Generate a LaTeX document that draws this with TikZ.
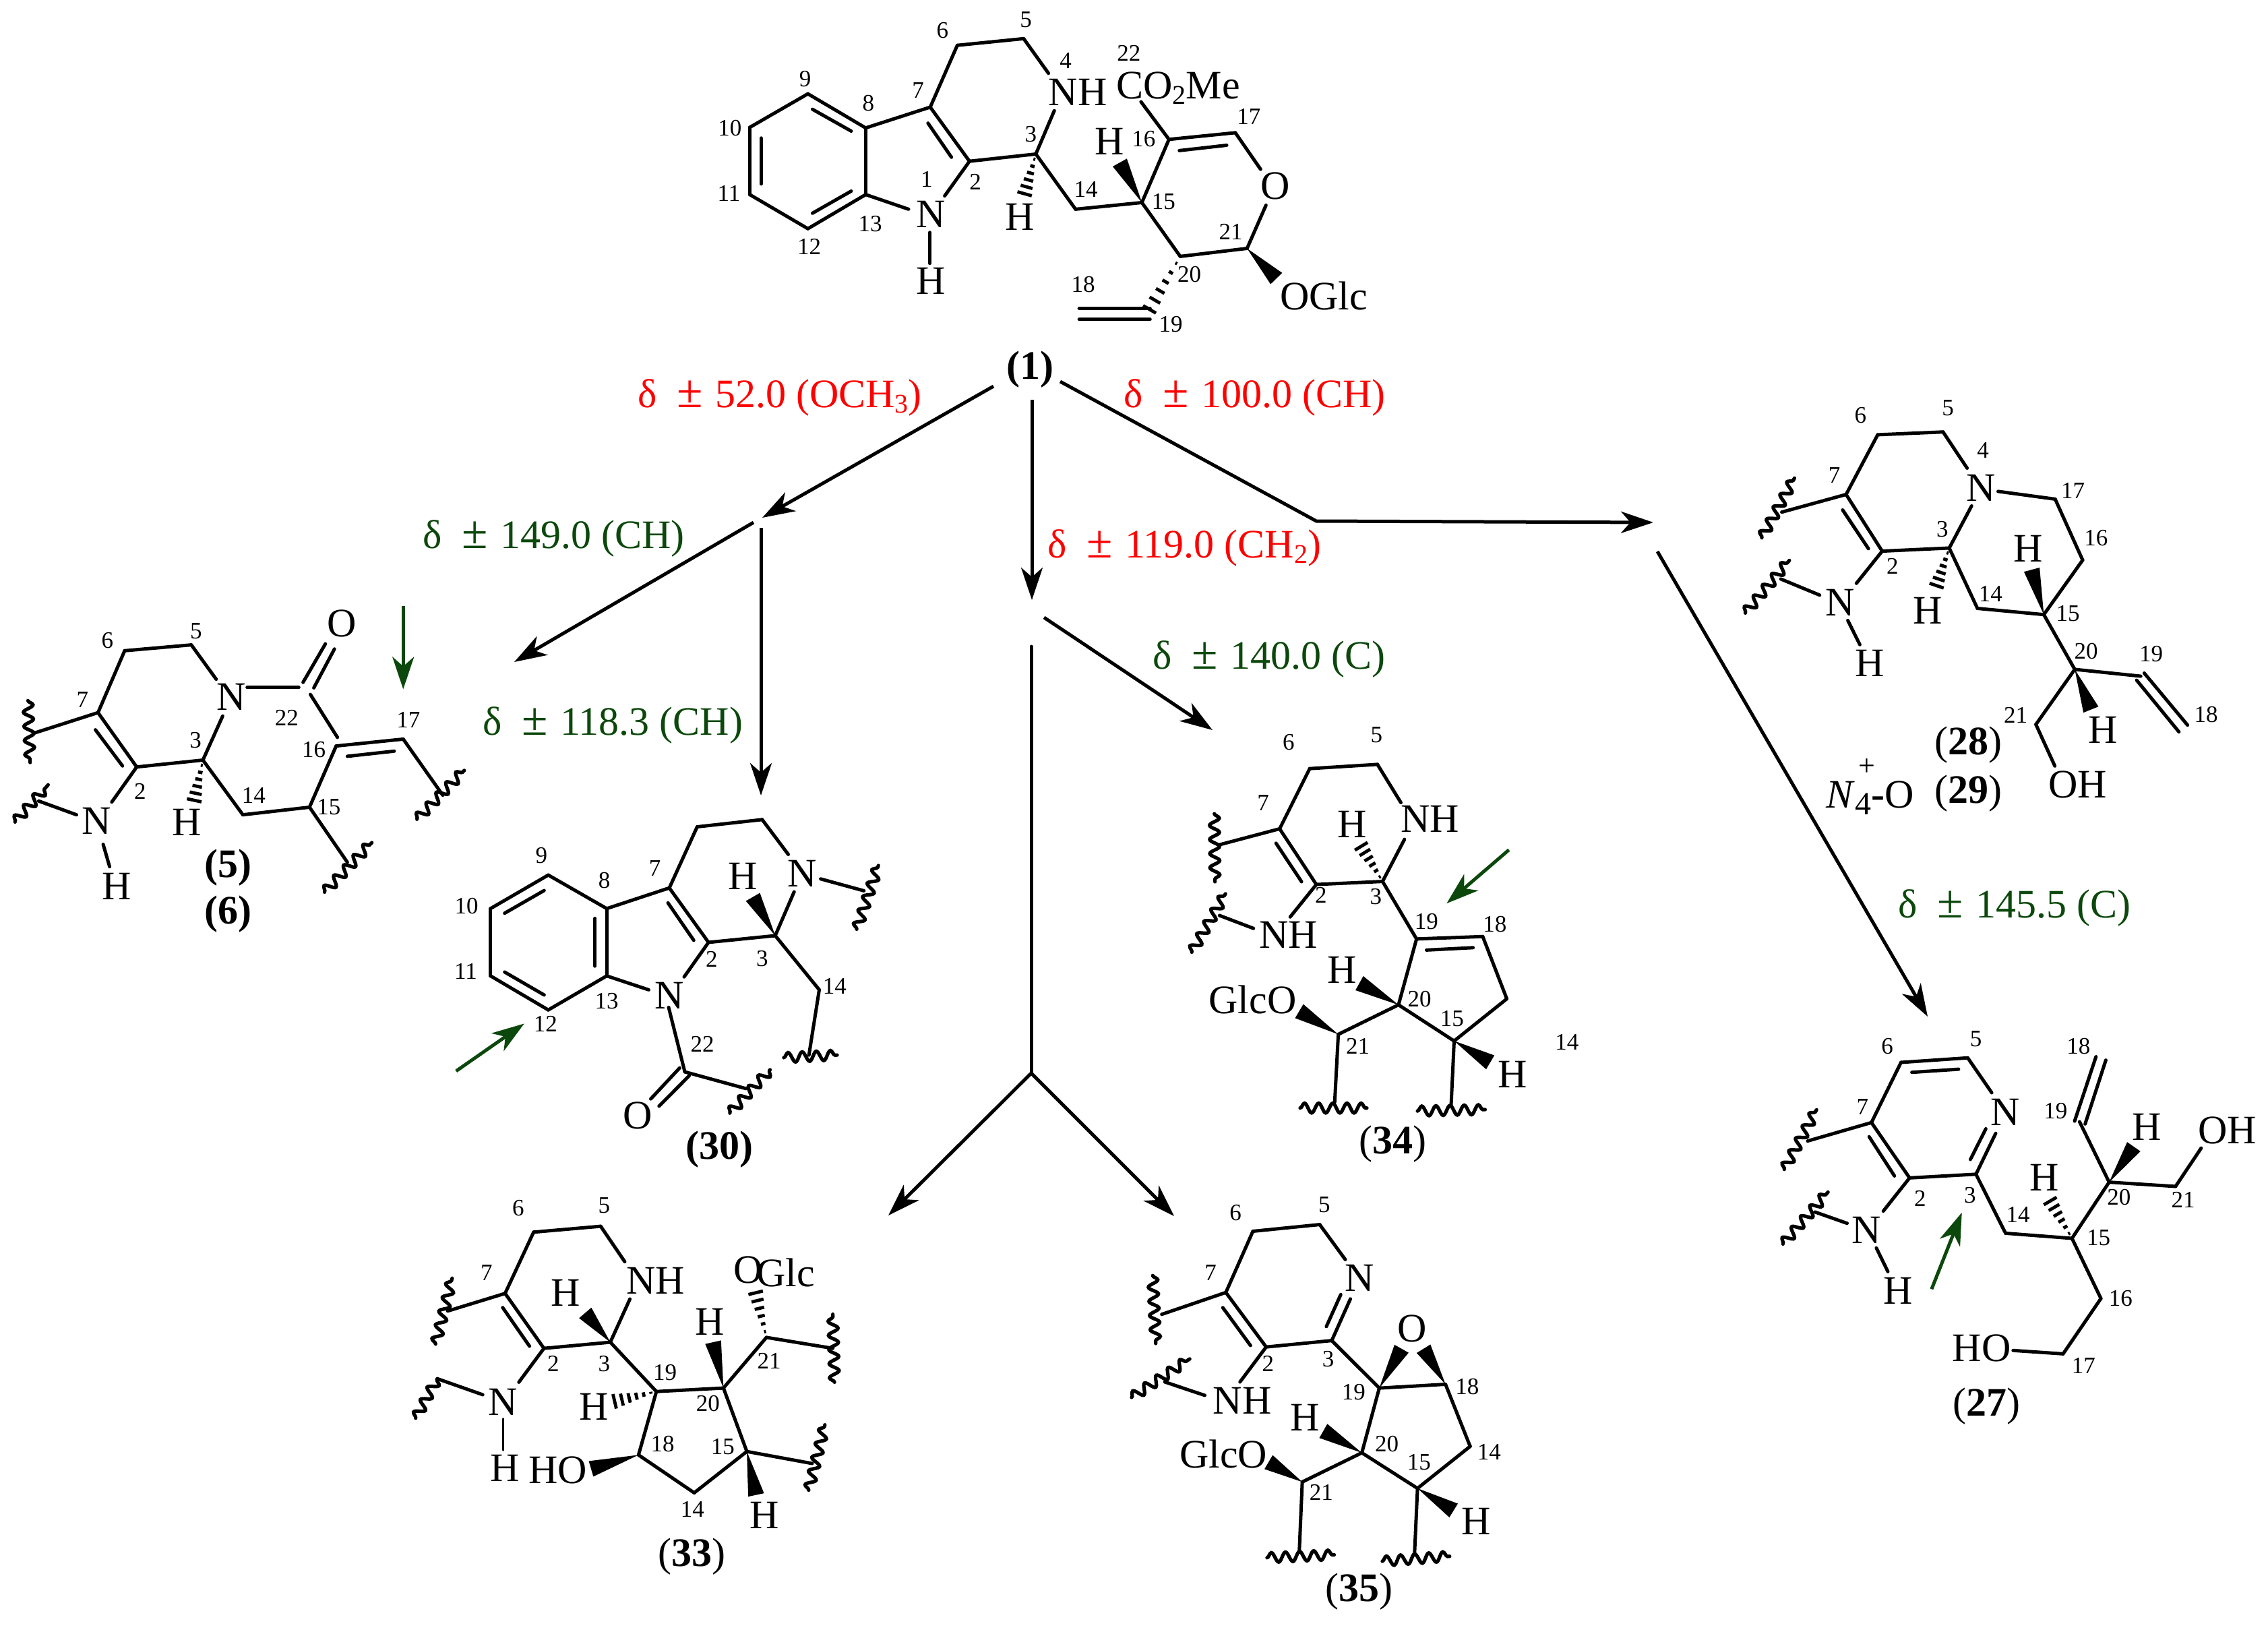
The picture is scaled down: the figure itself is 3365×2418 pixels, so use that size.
\documentclass[tikz,border=0pt]{standalone}
\usepackage{fontspec}
\setmainfont{Liberation Serif}
\usetikzlibrary{calc,arrows.meta,decorations.pathmorphing}
\definecolor{shiftgreen}{RGB}{12,72,12}
\newcommand{\subs}[1]{\raisebox{-.3ex}{\fontsize{20}{20}\selectfont #1}}
\newcommand{\plusminus}{{\fontsize{35}{35}\selectfont ±}\hspace{1.5pt}\ }
\newcommand{\wedgebond}[2]{\fill ($(#2)!6pt!90:(#1)$) -- (#1) -- ($(#2)!6pt!-90:(#1)$) -- cycle;}
\newcommand{\hashbond}[2]{\foreach \t in {.12,.28,.44,.6,.76,.92} {
    \pgfmathsetmacro{\hw}{6*\t}
    \coordinate (hp) at ($(#1)!\t!(#2)$);
    \draw[line width=2.4pt] ($(hp)!\hw pt!90:(#1)$) -- ($(hp)!\hw pt!-90:(#1)$);}}
\tikzset{
    bond/.style={line width=2.5pt, line cap=round, line join=round},
    wavy/.style={line width=2.6pt, line cap=round, decorate, decoration={snake, segment length=10.5pt, amplitude=3.6pt}},
    atom/.style={inner sep=0pt, font=\fontsize{30}{30}\selectfont},
    num/.style={inner sep=0pt, font=\fontsize{17.5}{17.5}\selectfont},
    tag/.style={inner sep=0pt, font=\fontsize{30}{30}\selectfont},
    shiftred/.style={anchor=base west, inner sep=0pt, text=red, font=\fontsize{30}{30}\selectfont},
    shiftgrn/.style={anchor=base west, inner sep=0pt, text=shiftgreen, font=\fontsize{30}{30}\selectfont},
    arr/.style={line width=2.5pt, line join=round, -{Stealth[length=24pt,width=16pt,inset=7pt]}},
    garr/.style={arr, draw=shiftgreen, color=shiftgreen},
}
\begin{document}
\begin{tikzpicture}[x=.5pt, y=-.5pt]
    \useasboundingbox (0,0) rectangle (3365,2418);

    % Arrows
    \foreach \n/\x/\y in {top1/1474/573, tip1/1131/768, fork1/1118/775, tip5/763/982, top30/1129/783, tip30/1129/1180,
        top2/1531/593, tip2/1531/890, top3/1549/916, tip3/1799/1083, top4/1530/959, fork4/1530/1592,
        tip33/1318/1803, tip35/1742/1804, top5/1573/566, bend5/1953/773, tip5b/2453/775, top6/2459/818, tip27/2860/1508}
        \coordinate (\n) at (\x,\y);
    \draw[arr] (top1) -- (tip1);
    \draw[arr] (fork1) -- (tip5);
    \draw[arr] (top30) -- (tip30);
    \draw[arr] (top2) -- (tip2);
    \draw[arr] (top3) -- (tip3);
    \draw[bond] (top4) -- (fork4);
    \draw[arr] (fork4) -- (tip33);
    \draw[arr] (fork4) -- (tip35);
    \draw[arr] (top5) -- (bend5) -- (tip5b);
    \draw[arr] (top6) -- (tip27);

    % Shifts
    \node[shiftred] (s52) at (946,604) {δ\ \ \plusminus 52.0 (OCH\subs{3})};
    \node[shiftred] (s100) at (1667,604) {δ\ \ \plusminus 100.0 (CH)};
    \node[shiftred] (s119) at (1554,827) {δ\ \ \plusminus 119.0 (CH\subs{2})};
    \node[shiftgrn] (s149) at (627,813) {δ\ \ \plusminus 149.0 (CH)};
    \node[shiftgrn] (s118) at (716,1090) {δ\ \ \plusminus 118.3 (CH)};
    \node[shiftgrn] (s140) at (1710,992) {δ\ \ \plusminus 140.0 (C)};
    \node[shiftgrn] (s145) at (2816,1361) {δ\ \ \plusminus 145.5 (C)};

    % Compound 1
    \begin{scope}[name prefix=m1-, shift={(1040,0)}, x=.3348pt, y=-.1977pt]
        \foreach \n/\x/\y in {c9/237/352, c10/108/478, c11/108/730, c12/237/858, c13/365/730, c8/365/480, c7/508/402,
            c2/595/605, c3/742/578, c6/568/170, c5/715/145, n4a/770/275, n4b/783/415, n1a/460/785, n1b/540/735,
            n1c/507/872, h1/507/988, i9/247/410, i8/333/492, i10/133/518, i11/133/690, i12/247/800, i13/333/717,
            i7/503/462, i2/555/590, h3/715/740, c14/830/785, c15/977/760, h15/928/610, c16/1037/523, c17/1184/498,
            i16/1060/565, i17/1165/545, oa/1240/635, ob/1252/770, c21/1210/932, c20/1062/962, o21/1275/1045,
            c19/988/1178, d1/838/1157, d2/995/1157, d3/838/1198, d4/995/1198, co/975/382}
            \coordinate (\n) at (\x,\y);
        \foreach \p/\q in {c9/c10, c10/c11, c11/c12, c12/c13, c13/c8, c8/c9, c8/c7, c7/c2, c2/c3, c7/c6, c6/c5, c5/n4a,
            c3/n4b, c13/n1a, c2/n1b, n1c/h1, i9/i8, i10/i11, i12/i13, i7/i2, c3/c14, c14/c15, c15/c16, c16/c17,
            i16/i17, c17/oa, ob/c21, c21/c20, c15/c20, d1/d2, d3/d4, c16/co}
            \draw[bond] (\p) -- (\q);
        \hashbond{c3}{h3}
        \hashbond{c20}{c19}
        \wedgebond{c15}{h15}
        \wedgebond{c21}{o21}
        \foreach \n/\x/\y/\t in {N1/510/805/N, H1/510/1055/H, H3/707/815/H, N4/835/345/NH, H15/905/532/H, O/1272/698/O, G/1380/1110/OGlc}
            \node[atom] (\n) at (\x,\y) {\t};
        \node[atom, anchor=base west] (ester) at (920,370) {CO\subs{2}Me};
        \foreach \x/\y/\t in {720/75/5, 535/115/6, 808/228/4, 948/200/22, 231/295/9, 371/388/8, 481/338/7, 64/480/10,
            62/725/11, 240/925/12, 375/840/13, 500/672/1, 608/682/2, 731/503/3, 853/710/14, 1025/757/15, 981/520/16,
            1214/437/17, 1174/870/21, 1082/1030/20, 847/1068/18, 1041/1218/19}
            \node[num] (l\t) at (\x,\y) {\t};
        \node[tag, font=\fontsize{30}{30}\selectfont\bfseries] (name) at (730,1385) {(1)};
    \end{scope}

    % Compounds 5 and 6
    \begin{scope}[name prefix=m5-, shift={(0,700)}, x=.3189pt, y=-.2551pt]
        \foreach \n/\x/\y in {c6/290/520, c5/445/503, n4a/503/603, n4b/518/710, c7/228/700, c2/318/858, c3/472/838,
            i7/222/750, i2/285/855, n1a/260/960, r7/78/760, w1/65/665, w2/70/845, n1b/178/997, r1/90/957, w3/35/1018,
            w4/112/910, n1c/240/1083, h1/255/1148, h3/450/965, c14/565/997, c15/720/975, c16/782/797, c17/938/777,
            i16/808/827, i17/917/812, n4c/575/627, c22/695/627, oa/705/612, ob/757/500, oc/730/628, od/778/515,
            ce/722/647, cf/785/772, r15/808/1135, w5/755/1222, w6/865/1078, r17/1030/940, w7/970/1010, w8/1080/868,
            ga/938/390, gb/938/632}
            \coordinate (\n) at (\x,\y);
        \foreach \p/\q in {c7/c6, c6/c5, c5/n4a, n4b/c3, c7/c2, c2/c3, i7/i2, c2/n1a, c7/r7, n1b/r1, n1c/h1, c3/c14,
            c14/c15, c15/c16, c16/c17, i16/i17, n4c/c22, oa/ob, oc/od, ce/cf, c15/r15, c17/r17}
            \draw[bond] (\p) -- (\q);
        \foreach \p/\q in {w1/w2, w3/w4, w5/w6, w7/w8}
            \draw[wavy] (\p) -- (\q);
        \hashbond{c3}{h3}
        \draw[garr] (ga) -- (gb);
        \foreach \n/\x/\y/\t in {N4/538/655/N, N1/225/1015/N, H1/272/1205/H, H3/435/1018/H, O/795/440/O}
            \node[atom] (\n) at (\x,\y) {\t};
        \foreach \x/\y/\t in {250/490/6, 456/463/5, 192/663/7, 455/780/3, 326/928/2, 590/940/14, 765/975/15, 730/808/16,
            667/715/22, 950/722/17}
            \node[num] (l\t) at (\x,\y) {\t};
        \node[tag, font=\fontsize{30}{30}\selectfont\bfseries] (name5) at (530,1150) {(5)};
        \node[tag, font=\fontsize{30}{30}\selectfont\bfseries] (name6) at (530,1285) {(6)};
    \end{scope}

    % Compound 30
    \begin{scope}[name prefix=m30-, shift={(640,1150)}, x=.2551pt, y=-.1913pt]
        \foreach \n/\x/\y in {c9/340/387, c10/172/517, c11/172/778, c12/340/910, c13/510/778, c8/510/517, c7/692/437,
            c2/806/648, c3/1000/622, i9/328/447, i10/213/535, i8/476/555, i13/476/740, i11/213/763, i12/328/852,
            i7/688/495, i2/763/640, c6/773/200, c5/962/172, n4a/1038/307, n4b/1055/452, n4c/1132/402, r4/1258/448,
            w1/1237/597, w2/1300/350, h3/935/472, n1a/632/832, n1b/735/782, n1c/690/900, c22/737/1150, r22/915/1215,
            w3/868/1310, w4/985/1142, oa/722/1135, ob/638/1255, oc/750/1165, od/662/1283, c14/1128/832, r14/1098/1085,
            w5/1025/1095, w6/1180/1085, ga/72/1147, gb/270/963}
            \coordinate (\n) at (\x,\y);
        \foreach \p/\q in {c9/c10, c10/c11, c11/c12, c12/c13, c13/c8, c8/c9, c8/c7, c7/c2, c2/c3, i9/i10, i8/i13, i11/i12,
            i7/i2, c7/c6, c6/c5, c5/n4a, c3/n4b, n4c/r4, c13/n1a, c2/n1b, n1c/c22, c22/r22, oa/ob, oc/od, c3/c14, c14/r14}
            \draw[bond] (\p) -- (\q);
        \foreach \p/\q in {w1/w2, w3/w4, w5/w6}
            \draw[wavy] (\p) -- (\q);
        \wedgebond{c3}{h3}
        \draw[garr] (ga) -- (gb);
        \foreach \n/\x/\y/\t in {H3/905/392/H, N4/1078/380/N, N1/692/855/N, O/600/1320/O}
            \node[atom] (\n) at (\x,\y) {\t};
        \foreach \x/\y/\t in {320/310/9, 503/407/8, 650/360/7, 102/507/10, 100/760/11, 332/965/12, 510/877/13, 815/712/2,
            962/712/3, 1173/818/14, 788/1043/22}
            \node[num] (l\t) at (\x,\y) {\t};
        \node[tag, font=\fontsize{30}{30}\selectfont\bfseries] (name) at (838,1450) {(30)};
    \end{scope}

    % Compound 34
    \begin{scope}[name prefix=m34-, shift={(1720,1050)}, x=.2232pt, y=-.2232pt]
        \foreach \n/\x/\y in {c7/400/402, c6/500/202, c5/725/188, n4a/803/315, c2/522/587, c3/742/577, n4b/815/437,
            i7/388/450, i2/473/578, r7/200/455, w1/183/352, w2/185/578, n1a/435/695, n1b/313/733, r1/200/690, w3/108/812,
            w4/220/618, h3/665/450, c19/855/768, c18/1075/760, i19/888/805, i18/1043/797, c20/795/987, c14/1155/967,
            c15/980/1107, c21/595/1085, h20/665/915, o21/465/1008, r21/583/1310, w5/468/1330, w6/690/1330, r15/970/1320,
            w7/858/1340, w8/1083/1335, h15/1100/1178, ga/1162/472, gb/955/650}
            \coordinate (\n) at (\x,\y);
        \foreach \p/\q in {c7/c6, c6/c5, c5/n4a, c7/c2, c2/c3, c3/n4b, i7/i2, c7/r7, c2/n1a, n1b/r1, c3/c19, c19/c18, i19/i18,
            c19/c20, c18/c14, c14/c15, c20/c15, c20/c21, c21/r21, c15/r15}
            \draw[bond] (\p) -- (\q);
        \foreach \p/\q in {w1/w2, w3/w4, w5/w6, w7/w8}
            \draw[wavy] (\p) -- (\q);
        \hashbond{c3}{h3}
        \wedgebond{c20}{h20}
        \wedgebond{c21}{o21}
        \wedgebond{c15}{h15}
        \draw[garr] (ga) -- (gb);
        \foreach \n/\x/\y/\t in {H3/640/388/H, N4/900/370/NH, N1/430/755/NH, H20/607/870/H, G/310/970/GlcO, H15/1175/1218/H}
            \node[atom] (\n) at (\x,\y) {\t};
        \foreach \x/\y/\t in {722/90/5, 430/115/6, 345/315/7, 537/622/2, 720/628/3, 888/710/19, 1115/718/18, 865/968/20,
            973/1033/15, 1355/1110/14, 660/1125/21}
            \node[num] (l\t) at (\x,\y) {\t};
        \node[tag] (name) at (777,1450) {(\textbf{34})};
    \end{scope}

    % Compounds 28 and 29
    \begin{scope}[name prefix=m28-, shift={(2540,520)}, x=.2551pt, y=-.2296pt]
        \foreach \n/\x/\y in {c6/482/272, c5/672/263, n4a/742/380, c7/390/465, c2/495/648, c3/690/638, n4b/755/502, i7/380/515,
            i2/455/640, r7/203/522, w1/145/605, w2/240/412, n1a/420/752, n1b/313/790, r1/200/738, w3/97/848, w4/225/678,
            n1c/395/872, h1/430/950, h3/650/770, n4c/832/455, c17/998/480, c16/1078/677, c15/965/853, c14/772/833,
            h15/930/708, c20/1055/1030, c19/1247/1052, da/1235/1065, db/1358/1232, dc/1257/1042, dd/1383/1210,
            c21/942/1208, oh/997/1342, h20/1102/1160}
            \coordinate (\n) at (\x,\y);
        \foreach \p/\q in {c7/c6, c6/c5, c5/n4a, c7/c2, c2/c3, c3/n4b, i7/i2, c7/r7, c2/n1a, n1b/r1, n1c/h1, n4c/c17, c17/c16,
            c16/c15, c3/c14, c14/c15, c15/c20, c20/c19, da/db, dc/dd, c20/c21, c21/oh}
            \draw[bond] (\p) -- (\q);
        \foreach \p/\q in {w1/w2, w3/w4}
            \draw[wavy] (\p) -- (\q);
        \hashbond{c3}{h3}
        \wedgebond{c15}{h15}
        \wedgebond{c20}{h20}
        \foreach \n/\x/\y/\t in {N1/372/815/N, H1/458/1010/H, H3/627/840/H, N4/782/445/N, H15/920/640/H, OH/1063/1402/OH, H20/1137/1225/H}
            \node[atom] (\n) at (\x,\y) {\t};
        \foreach \x/\y/\t in {432/210/6, 686/185/5, 788/323/4, 356/403/7, 670/577/3, 525/697/2, 810/787/14, 1050/452/17,
            1117/605/16, 1035/850/15, 1088/972/20, 1277/980/19, 1437/1177/18, 883/1177/21}
            \node[num] (l\t) at (\x,\y) {\t};
        \node[tag] (name28) at (745,1275) {(\textbf{28})};
        \node[tag] (name29) at (745,1430) {(\textbf{29})};
        \node[atom] (oxide) at (460,1445) {\textit{N}\raisebox{-.35ex}{\fontsize{24}{24}\selectfont 4}\textbf{-}O};
        \node[num, font=\fontsize{22}{22}\selectfont] (plus) at (450,1345) {+};
    \end{scope}

    % Compound 27
    \begin{scope}[name prefix=m27-, shift={(2600,1480)}, x=.2439pt, y=-.2105pt]
        \foreach \n/\x/\y in {c6/452/228, c5/655/212, n4a/728/335, i6/485/263, i5/627/252, c7/362/440, c2/478/635, c3/680/622,
            i7/355/490, i2/432/628, n4b/740/478, i3/663/570, i4/710/462, r7/168/505, w1/97/605, w2/195/395, n1a/398/752,
            n1b/288/795, r1/190/755, w3/93/868, w4/230/685, n1c/377/882, h1/412/965, c14/770/830, c15/972/848, h15/900/705,
            c16/1060/1060, c17/945/1255, ho/793/1243, c20/1085/650, c21/1287/665, oh/1365/530, c19/995/437, da/980/435,
            db/1045/208, dc/1012/445, dd/1075/220, h20/1160/525, ga/545/1027, gb/637/757}
            \coordinate (\n) at (\x,\y);
        \foreach \p/\q in {c7/c6, c6/c5, c5/n4a, i6/i5, c7/c2, c2/c3, i7/i2, c3/n4b, i3/i4, c7/r7, c2/n1a, n1b/r1, n1c/h1,
            c3/c14, c14/c15, c15/c16, c16/c17, c17/ho, c15/c20, c20/c21, c21/oh, c20/c19, da/db, dc/dd}
            \draw[bond] (\p) -- (\q);
        \foreach \p/\q in {w1/w2, w3/w4}
            \draw[wavy] (\p) -- (\q);
        \hashbond{c15}{h15}
        \wedgebond{c20}{h20}
        \draw[garr] (ga) -- (gb);
        \foreach \n/\x/\y/\t in {N4/768/403/N, N1/347/818/N, H1/443/1032/H, H15/887/635/H, HO/697/1235/HO, OH/1445/467/OH, H20/1200/455/H}
            \node[atom] (\n) at (\x,\y) {\t};
        \foreach \x/\y/\t in {680/145/5, 410/172/6, 335/385/7, 510/707/2, 662/697/3, 808/765/14, 1053/845/15, 1120/1060/16,
            1007/1297/17, 922/400/19, 992/172/18, 1115/703/20, 1310/712/21}
            \node[num] (l\t) at (\x,\y) {\t};
        \node[tag] (name) at (713,1440) {(\textbf{27})};
    \end{scope}

    % Compound 33
    \begin{scope}[name prefix=m33-, shift={(580,1740)}, x=.2551pt, y=-.1977pt]
        \foreach \n/\x/\y in {c6/415/222, c5/610/200, n4a/680/333, c7/332/452, c2/445/658, c3/638/635, i7/325/505, i2/403/650,
            n4b/695/473, r7/165/518, w1/130/642, w2/178/395, n1a/372/785, n1b/267/832, r1/135/772, w3/72/920, n1c/327/922,
            h1/327/1040, h3/565/525, c19/772/820, c20/967/807, h19/640/860, c18/720/1058, c14/882/1200, c15/1035/1045,
            o18/582/1110, h15/1062/1208, r15/1225/1090, w5/1215/1190, w6/1262/945, c21/1092/617, r21/1285/658, w7/1290/785,
            w8/1285/530, o21/1058/435, h20/937/635}
            \coordinate (\n) at (\x,\y);
        \foreach \p/\q in {c7/c6, c6/c5, c5/n4a, c7/c2, c2/c3, i7/i2, c3/n4b, c7/r7, c2/n1a, n1b/r1, c3/c19, c19/c20, c19/c18,
            c18/c14, c14/c15, c20/c15, c15/r15, c20/c21, c21/r21}
            \draw[bond] (\p) -- (\q);
        \draw[bond, line width=1.6pt] (n1c) -- (h1);
        \foreach \p/\q in {w1/w2, w3/r1, w5/w6, w7/w8}
            \draw[wavy] (\p) -- (\q);
        \wedgebond{c3}{h3}
        \hashbond{c19}{h19}
        \wedgebond{c18}{o18}
        \wedgebond{c15}{h15}
        \hashbond{c21}{o21}
        \wedgebond{c20}{h20}
        \foreach \n/\x/\y/\t in {N4/770/405/NH, N1/325/860/N, H1/332/1108/H, H3/507/450/H, H19/590/878/H, HO/485/1115/HO,
            H15/1087/1285/H, OA/1040/365/O, Glc/1148/375/Glc, H20/927/558/H}
            \node[atom] (\n) at (\x,\y) {\t};
        \foreach \x/\y/\t in {370/132/6, 620/122/5, 278/375/7, 472/715/2, 620/715/3, 797/750/19, 922/865/20, 1100/705/21,
            790/1018/18, 965/1028/15, 877/1262/14}
            \node[num] (l\t) at (\x,\y) {\t};
        \node[tag] (name) at (875,1440) {(\textbf{33})};
    \end{scope}

    % Compound 35
    \begin{scope}[name prefix=m35-, shift={(1650,1740)}, x=.2232pt, y=-.2162pt]
        \foreach \n/\x/\y in {c6/468/200, c5/690/177, n4a/775/297, c7/378/410, c2/512/597, c3/730/575, i7/368/462, i2/460/592,
            n4b/792/432, i3/712/527, i4/760/417, r7/165/485, w1/135/352, w2/145/585, n1a/425/717, n1b/308/763, r1/175/717,
            w3/65/770, w4/258/638, c19/888/738, c18/1108/725, o19/962/603, o18/1035/603, c20/830/960, c14/1190/938,
            c15/1015/1082, c21/632/1060, h20/702/885, o21/520/992, r21/622/1300, w5/515/1320, w6/738/1310, r15/1005/1310,
            w7/898/1332, w8/1122/1315, h15/1135/1158}
            \coordinate (\n) at (\x,\y);
        \foreach \p/\q in {c7/c6, c6/c5, c5/n4a, c7/c2, c2/c3, i7/i2, c3/n4b, i3/i4, c7/r7, c2/n1a, n1b/r1, c3/c19, c19/c18,
            c19/c20, c18/c14, c14/c15, c20/c15, c20/c21, c21/r21, c15/r15}
            \draw[bond] (\p) -- (\q);
        \foreach \p/\q in {w1/w2, w3/w4, w5/w6, w7/w8}
            \draw[wavy] (\p) -- (\q);
        \wedgebond{c19}{o19}
        \wedgebond{c18}{o18}
        \wedgebond{c20}{h20}
        \wedgebond{c21}{o21}
        \wedgebond{c15}{h15}
        \foreach \n/\x/\y/\t in {N4/822/360/N, N1/433/782/NH, O/997/535/O, H20/642/840/H, G/370/965/GlcO, H15/1210/1195/H}
            \node[atom] (\n) at (\x,\y) {\t};
        \foreach \x/\y/\t in {410/137/6, 705/110/5, 327/342/7, 518/655/2, 718/638/3, 803/752/19, 1180/732/18, 913/930/20,
            1253/957/14, 1020/992/15, 695/1097/21}
            \node[num] (l\t) at (\x,\y) {\t};
        \node[tag] (name) at (820,1437) {(\textbf{35})};
    \end{scope}
\end{tikzpicture}
\end{document}
